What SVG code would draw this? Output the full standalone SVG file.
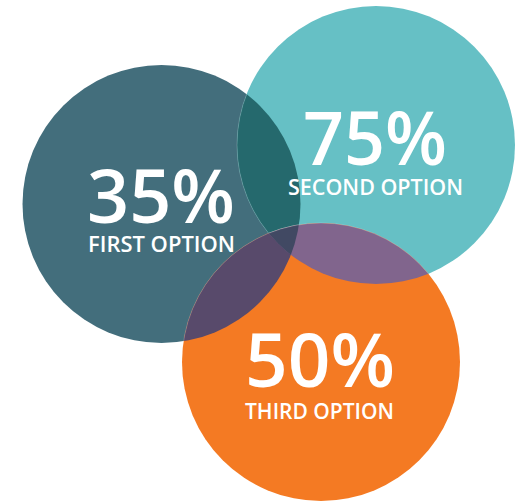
<svg xmlns="http://www.w3.org/2000/svg" width="518" height="501" viewBox="0 0 518 501">
  <style>
    .t { font-family: "Open Sans", "Liberation Sans", sans-serif; fill: #ffffff; text-anchor: middle; }
    .num { font-weight: 600; font-size: 74px; }
    .lbl { font-weight: 600; font-size: 21px; }
    .edge { stroke: #ffffff; stroke-opacity: 0.25; stroke-width: 0.8; }
  </style>
  <defs>
    <clipPath id="clip1"><circle cx="161.5" cy="204" r="139"/></clipPath>
    <clipPath id="clip2"><circle cx="376" cy="145" r="139"/></clipPath>
  </defs>
  <rect width="518" height="501" fill="#ffffff"/>
  <g id="first-option">
    <circle cx="161.5" cy="204" r="139" fill="#436E7C"/>
    <text class="t"><tspan class="num" x="161" y="223" textLength="148" lengthAdjust="spacingAndGlyphs">35%</tspan><tspan class="lbl" x="161.5" y="252" textLength="147" lengthAdjust="spacingAndGlyphs">FIRST OPTION</tspan></text>
  </g>
  <g id="second-option">
    <circle cx="376" cy="145" r="139" fill="#66C0C5"/>
    <circle class="edge" cx="376" cy="145" r="139" fill="#25696D" clip-path="url(#clip1)"/>
    <text class="t"><tspan class="num" x="375" y="165" textLength="144" lengthAdjust="spacingAndGlyphs">75%</tspan><tspan class="lbl" x="375.5" y="195" textLength="175" lengthAdjust="spacingAndGlyphs">SECOND OPTION</tspan></text>
  </g>
  <g id="third-option">
    <circle cx="321" cy="362" r="139" fill="#F47A23"/>
    <circle class="edge" cx="321" cy="362" r="139" fill="#584A6B" clip-path="url(#clip1)"/>
    <circle class="edge" cx="321" cy="362" r="139" fill="#81658D" clip-path="url(#clip2)"/>
    <g clip-path="url(#clip1)">
      <circle class="edge" cx="321" cy="362" r="139" fill="#414963" clip-path="url(#clip2)"/>
    </g>
    <text class="t"><tspan class="num" x="320" y="387" textLength="150" lengthAdjust="spacingAndGlyphs">50%</tspan><tspan class="lbl" x="319.5" y="419" textLength="149" lengthAdjust="spacingAndGlyphs">THIRD OPTION</tspan></text>
  </g>
</svg>
